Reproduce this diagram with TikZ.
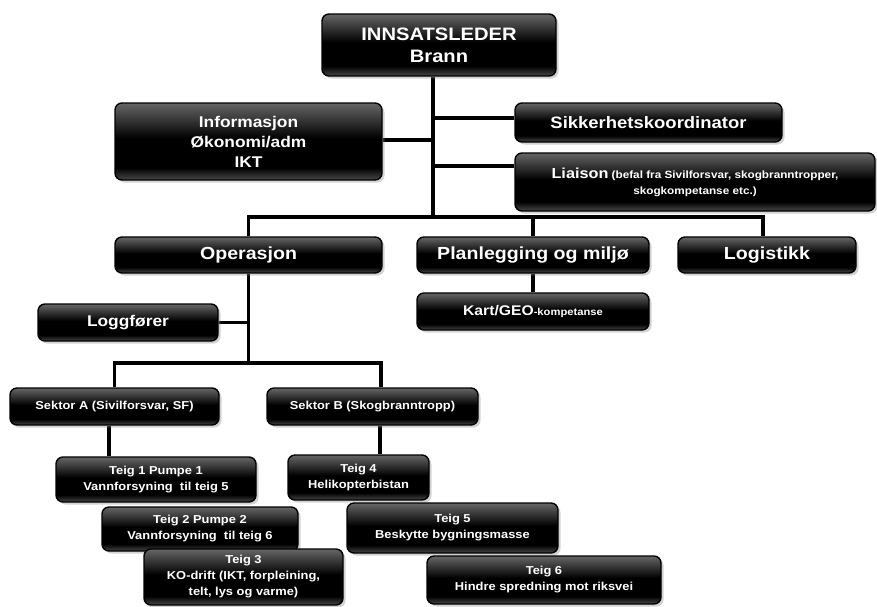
\documentclass[tikz,border=0pt]{standalone}
\usepackage{fontspec}
\setmainfont{Liberation Sans}[FakeStretch=1.12]
\usetikzlibrary{shadows,backgrounds}
\pgfdeclareverticalshading{boxshade}{100bp}{%
  color(0bp)=(black!72); color(25bp)=(black!72); color(33bp)=(black);
  color(52bp)=(black); color(75bp)=(black!60); color(100bp)=(black!60)}
\tikzset{
  orgbox/.style={draw=black, line width=1.4pt, rounded corners=7pt,
    shading=boxshade, text=white, align=center, inner sep=0pt,
    font=\bfseries,
    drop shadow={opacity=0.35, shadow xshift=2.5pt, shadow yshift=-2.5pt}},
  conn/.style={line width=3.4pt, black},
  fA/.style={font=\bfseries\fontsize{18}{22}\selectfont},
  fB/.style={font=\bfseries\fontsize{15.5}{20}\selectfont},
  fC/.style={font=\bfseries\fontsize{17.5}{20}\selectfont},
  fD/.style={font=\bfseries\fontsize{11.5}{15}\selectfont},
  fE/.style={font=\bfseries\fontsize{11.5}{16}\selectfont},
}
\begin{document}
\begin{tikzpicture}[x=1pt,y=-1pt]
\useasboundingbox (0,0) rectangle (877,606);
% boxes
\node[orgbox,fA,minimum width=234pt,minimum height=62pt] (leader) at (439,45) {INNSATSLEDER\\Brann};
\node[orgbox,fB,minimum width=267pt,minimum height=77pt] (info) at (248.5,141.5) {Informasjon\\Økonomi/adm\\IKT};
\node[orgbox,font=\bfseries\fontsize{16.5}{20}\selectfont,minimum width=267pt,minimum height=39pt] (sik) at (648.5,122.5) {Sikkerhetskoordinator};
\node[orgbox,font=\bfseries\fontsize{10.5}{16}\selectfont,minimum width=360pt,minimum height=58pt] (liaison) at (695,182) {{\fontsize{14.5}{16}\selectfont Liaison} (befal fra Sivilforsvar, skogbranntropper,\\skogkompetanse etc.)};
\node[orgbox,fC,minimum width=267pt,minimum height=36pt] (oper) at (248.5,255) {Operasjon};
\node[orgbox,fC,minimum width=232pt,minimum height=36pt] (plan) at (533,255) {Planlegging og miljø};
\node[orgbox,fC,minimum width=178pt,minimum height=36pt] (logi) at (767,255) {Logistikk};
\node[orgbox,font=\bfseries\fontsize{10}{14}\selectfont,minimum width=232pt,minimum height=37pt] (kart) at (533,311.5) {{\fontsize{14}{16}\selectfont Kart/GEO}-kompetanse};
\node[orgbox,fB,minimum width=180pt,minimum height=37pt] (logg) at (128,322.5) {Loggfører};
\node[orgbox,fD,minimum width=209pt,minimum height=37pt] (sekA) at (114.5,406.5) {Sektor A (Sivilforsvar, SF)};
\node[orgbox,fD,minimum width=211pt,minimum height=37pt] (sekB) at (372.5,406.5) {Sektor B (Skogbranntropp)};
\node[orgbox,fE,minimum width=200pt,minimum height=45pt] (t1) at (156,479.5) {Teig 1 Pumpe 1\\Vannforsyning\ \ til teig 5};
\node[orgbox,fE,minimum width=196pt,minimum height=44pt] (t2) at (200,529) {Teig 2 Pumpe 2\\Vannforsyning\ \ til teig 6};
\node[orgbox,fE,minimum width=199pt,minimum height=56pt] (t3) at (243.5,577) {Teig 3\\KO-drift (IKT, forpleining,\\telt, lys og varme)};
\node[orgbox,fE,minimum width=141pt,minimum height=45pt] (t4) at (358.5,477.5) {Teig 4\\Helikopterbistan};
\node[orgbox,fE,minimum width=211pt,minimum height=50pt] (t5) at (452.5,528) {Teig 5\\Beskytte bygningsmasse};
\node[orgbox,fE,minimum width=234pt,minimum height=48pt] (t6) at (544,580) {Teig 6\\Hindre spredning mot riksvei};
% junctions
\coordinate (j1) at (433,118);
\coordinate (j2) at (433,140);
\coordinate (j3) at (433,166);
\coordinate (jb) at (433,217);
\coordinate (jlog) at (763,217);
\coordinate (jo) at (248.5,363);
\coordinate (jsb) at (381,363);
\coordinate (ja) at (109,0);
\coordinate (jbb) at (380,0);
\begin{pgfonlayer}{background}
\draw[conn] (leader.south -| jb) -- (jb);
\draw[conn] (j1) -- (sik.west |- j1);
\draw[conn] (j2) -- (info.east |- j2);
\draw[conn] (j3) -- (liaison.west |- j3);
\draw[conn] (oper.north) -- (oper.north |- jb) -- (jlog) -- (jlog |- logi.north);
\draw[conn] (plan.north) -- (plan.north |- jb);
\draw[conn] (plan.south) -- (kart.north);
\draw[conn] (oper.south) -- (jo);
\draw[conn] (logg.east) -- (logg.east -| jo);
\draw[conn] (sekA.north) -- (sekA.north |- jo) -- (jsb) -- (jsb |- sekB.north);
\draw[conn] (sekA.south -| ja) -- (t1.north -| ja);
\draw[conn] (sekB.south -| jbb) -- (t4.north -| jbb);
\end{pgfonlayer}
\end{tikzpicture}
\end{document}
